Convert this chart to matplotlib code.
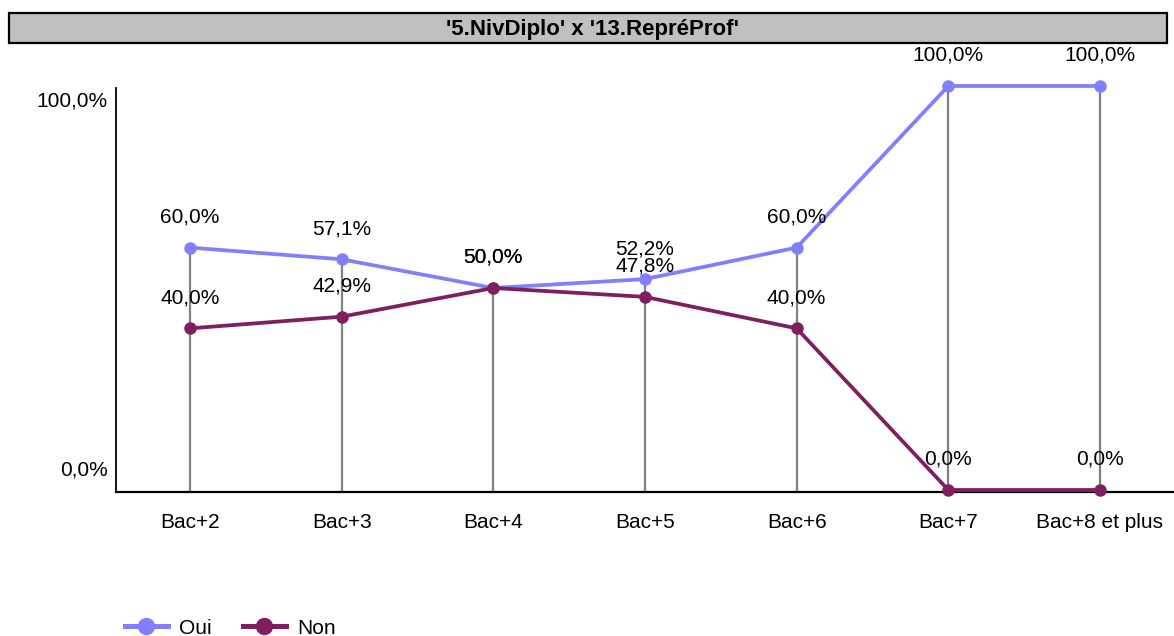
import numpy as np
import matplotlib
matplotlib.use("Agg")
import matplotlib.pyplot as plt
import matplotlib.patches as mpatches
from matplotlib.lines import Line2D
from matplotlib.transforms import ScaledTranslation

plt.rcParams["font.family"] = ["Liberation Sans", "DejaVu Sans"]

CATEGORIES = ["Bac+2", "Bac+3", "Bac+4", "Bac+5", "Bac+6", "Bac+7", "Bac+8 et plus"]
OUI = [60.0, 57.1, 50.0, 52.2, 60.0, 100.0, 100.0]
NON = [40.0, 42.9, 50.0, 47.8, 40.0, 0.0, 0.0]
SERIES_NAMES = ["Oui", "Non"]
TITLE = "'5.NivDiplo' x '13.RepréProf'"

COLORS = ["#8080ff", "#7f1f5f"]
W, H = 1174, 636
FS = 15


def fmt(v):
    return f"{v:.1f}%".replace(".", ",")


fig = plt.figure(figsize=(W / 100, H / 100), dpi=100)

# axes placed in pixel coords
left, right, top, bottom = 116, 1174, 88, 492
ax = fig.add_axes([left / W, 1 - bottom / H, (right - left) / W, (bottom - top) / H])
ax.set_xlim(-0.488, 6.488)
ax.set_ylim(-0.5, 99.5)

x = np.arange(len(CATEGORIES))

# gray drop lines from the top value down to the axis
tops = np.maximum(OUI, NON)
ax.vlines(x, -0.5, tops, color="#808080", linewidth=1.6, zorder=1)

for vals, col in zip([OUI, NON], COLORS):
    ax.plot(x, vals, color=col, linewidth=2.7, marker="o", markersize=8,
            clip_on=False, zorder=3)
    for xi, v in zip(x, vals):
        ax.annotate(fmt(v), (xi, v), xytext=(0, 22), textcoords="offset points",
                    ha="center", va="center", fontsize=FS, color="black",
                    annotation_clip=False)

# spines
for s in ["top", "right"]:
    ax.spines[s].set_visible(False)
ax.spines["left"].set_linewidth(1.3)
ax.spines["bottom"].set_linewidth(1.6)

ax.set_xticks(x)
ax.set_xticklabels(CATEGORIES, fontsize=FS)
ax.tick_params(axis="x", length=0, pad=15)
ax.set_yticks([])

# y labels sit a bit inside the range, as in the original
off_top = ScaledTranslation(-8 / 100, -15 / 100, fig.dpi_scale_trans)
off_bot = ScaledTranslation(-8 / 100, 20 / 100, fig.dpi_scale_trans)
ax.text(0, 100, fmt(100), transform=ax.get_yaxis_transform() + off_top,
        ha="right", va="center", fontsize=FS)
ax.text(0, 0, fmt(0), transform=ax.get_yaxis_transform() + off_bot,
        ha="right", va="center", fontsize=FS)

# title bar
bar = mpatches.Rectangle((9 / W, 1 - 43 / H), (1167 - 9) / W, 30 / H,
                         transform=fig.transFigure, facecolor="#c0c0c0",
                         edgecolor="black", linewidth=1.6)
fig.patches.append(bar)
fig.text(592 / W, 1 - 29 / H, TITLE, ha="center", va="center",
         fontsize=16, fontweight="bold")

# legend
handles = [Line2D([0], [0], color=c, linewidth=3.6, marker="o", markersize=11.5,
                  label=n) for c, n in zip(COLORS, SERIES_NAMES)]
fig.legend(handles=handles, loc="center left", bbox_to_anchor=(125 / W, 1 - 628 / H),
           ncol=2, frameon=False, fontsize=FS, handlelength=2.05,
           handletextpad=0.55, columnspacing=1.5, borderaxespad=0,
           borderpad=0)

fig.savefig("out.png", dpi=100)
